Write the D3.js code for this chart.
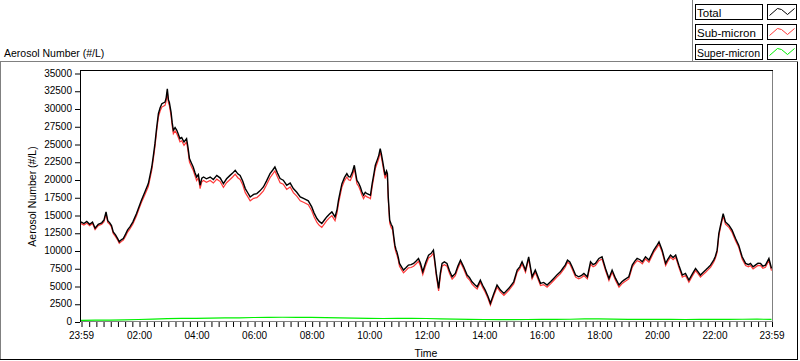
<!DOCTYPE html>
<html><head><meta charset="utf-8">
<script src="https://cdn.jsdelivr.net/npm/d3@7"></script>
<style>
body{margin:0;background:#fff}
svg{display:block}
text{font-family:"Liberation Sans",Arial,sans-serif;fill:#000}
</style>
</head><body>
<svg id="chart" width="800" height="361"></svg>
<script>
// ---------------- DATA ----------------
// sample times, hours after the 23:59 start
const timeH = [
0.00,0.10,0.20,0.30,0.40,0.49,0.60,0.72,0.80,0.87,
0.93,1.00,1.06,1.12,1.20,1.27,1.33,1.40,1.47,1.55,
1.62,1.70,1.80,1.93,2.02,2.10,2.22,2.34,2.46,2.52,
2.57,2.63,2.69,2.75,2.81,2.92,2.96,3.00,3.04,3.07,
3.13,3.17,3.21,3.27,3.33,3.38,3.44,3.50,3.58,3.67,
3.72,3.77,3.84,3.90,3.96,4.02,4.08,4.14,4.20,4.26,
4.36,4.49,4.60,4.72,4.84,4.95,5.06,5.18,5.27,5.36,
5.45,5.53,5.62,5.71,5.80,5.88,6.00,6.11,6.22,6.34,
6.45,6.57,6.66,6.74,6.83,6.92,7.03,7.15,7.27,7.38,
7.50,7.62,7.75,7.90,8.02,8.10,8.20,8.28,8.37,8.46,
8.54,8.63,8.72,8.83,8.90,8.95,9.01,9.07,9.16,9.24,
9.30,9.36,9.43,9.50,9.55,9.59,9.65,9.71,9.76,9.82,
9.88,9.94,10.00,10.06,10.12,10.18,10.23,10.30,10.35,10.40,
10.44,10.48,10.53,10.57,10.62,10.65,10.68,10.73,10.78,10.83,
10.87,10.91,10.95,10.98,11.03,11.07,11.14,11.21,11.30,11.38,
11.47,11.56,11.64,11.73,11.80,11.88,11.98,12.08,12.17,12.25,
12.30,12.35,12.40,12.43,12.49,12.55,12.63,12.72,12.81,12.90,
13.01,13.10,13.19,13.30,13.42,13.50,13.59,13.68,13.77,13.88,
13.96,14.05,14.15,14.23,14.35,14.46,14.58,14.70,14.87,15.04,
15.16,15.25,15.33,15.45,15.56,15.68,15.79,15.97,16.08,16.20,
16.32,16.43,16.55,16.66,16.75,16.83,16.91,16.99,17.07,17.19,
17.30,17.40,17.48,17.60,17.71,17.80,17.88,18.00,18.11,18.23,
18.35,18.46,18.58,18.70,18.80,18.87,19.04,19.16,19.25,19.33,
19.43,19.51,19.62,19.74,19.83,19.91,20.00,20.09,20.20,20.32,
20.40,20.49,20.58,20.67,20.78,20.90,21.01,21.13,21.25,21.36,
21.45,21.53,21.62,21.71,21.80,21.88,21.99,22.05,22.11,22.17,
22.23,22.32,22.40,22.52,22.63,22.75,22.86,22.98,23.10,23.20,
23.27,23.36,23.44,23.53,23.62,23.70,23.79,23.91,24.00
];
const total = [
14030,13800,14100,13700,14000,13140,13700,13900,14300,15430,
14200,13900,13500,12620,12200,11700,11220,11500,11690,12300,
12900,13330,14000,15200,16200,17080,18250,19420,21760,23500,
25050,27300,29260,30100,30670,30900,31500,32780,31200,30900,
29490,28000,26920,27300,26920,26400,25750,25900,25280,25750,
24500,22940,22300,21760,21000,20350,20700,19190,20200,20350,
20100,20350,20000,20580,20200,19420,20100,20580,20900,21300,
20800,20580,19800,18720,18100,17540,17900,18020,18400,18950,
19800,20830,21300,21760,20900,20130,19900,19190,19500,18720,
18200,17540,17300,17000,16140,15300,14500,14100,13800,14300,
14730,15100,15430,14730,15800,17080,18300,19420,20300,20830,
20400,20350,21000,22000,20800,19890,19500,18950,18300,17780,
18200,18000,17900,17780,19420,20800,22000,22800,23400,24350,
23600,22700,21500,20600,21200,20830,17540,14270,13700,13330,
12000,10750,10100,9810,9000,8180,7700,7240,7600,7940,
8000,8180,8500,8880,8200,7000,8300,9350,9600,10050,
8500,6770,5500,4670,6800,8180,8400,8180,7100,6300,
6770,7800,8650,7700,6540,6200,5590,5200,4890,5830,
5100,4430,3500,2560,3960,5130,4430,3960,4670,5590,
7240,7700,8410,7240,9110,6300,7240,5370,5500,5130,
5600,6070,6600,7000,7500,7940,8650,8400,7700,6540,
6300,6500,6770,6300,8410,8000,8180,8880,9110,7470,
6070,7240,6070,5130,5600,5830,6300,7940,8500,8880,
8700,8410,9110,8650,9400,10050,10600,11220,10050,8180,
8800,9350,9000,9350,7940,6540,6770,5830,6700,7470,
7000,6540,6900,7240,7600,7940,8650,9200,10050,12400,
13560,15200,14030,13560,12860,11690,10750,9110,8180,8000,
8180,7700,7940,8200,8180,7800,7940,8880,7470
];
const subMicron = [
13800,13600,13850,13500,13800,12950,13500,13700,14050,15150,
13950,13700,13300,12400,11950,11500,11000,11250,11450,12000,
12600,13050,13700,14900,15900,16750,17850,19000,21300,23050,
24600,26850,28800,29650,30200,30450,31050,32300,30750,30450,
29000,27550,26450,26850,26450,25950,25300,25450,24800,25300,
24000,22450,21800,21300,20550,19850,20250,18700,19700,19850,
19600,19850,19500,20050,19700,18900,19550,20000,20350,20750,
20250,20000,19250,18150,17550,17000,17350,17450,17850,18400,
19250,20250,20750,21200,20350,19550,19350,18600,18950,18150,
17650,17000,16750,16450,15600,14750,13950,13550,13250,13750,
14200,14600,14900,14200,15300,16600,17800,18950,19850,20350,
19950,19850,20500,21550,20350,19400,19050,18450,17850,17300,
17750,17550,17450,17300,18950,20350,21550,22350,22950,23900,
23150,22250,21050,20150,20750,20350,17100,13850,13250,12900,
11600,10350,9700,9400,8600,7780,7300,6850,7200,7550,
7600,7780,8100,8480,7800,6600,7900,8950,9200,9650,
8100,6380,5100,4300,6400,7800,8000,7800,6750,5950,
6450,7480,8330,7380,6220,5880,5270,4880,4580,5520,
4800,4130,3200,2280,3660,4830,4130,3660,4370,5290,
6940,7400,8100,6940,8800,6000,6940,5070,5200,4830,
5300,5770,6300,6700,7200,7640,8340,8100,7400,6240,
6000,6200,6460,6000,8100,7700,7880,8570,8800,7170,
5770,6940,5770,4830,5300,5530,6000,7640,8200,8570,
8400,8110,8800,8350,9100,9750,10300,10900,9750,7880,
8500,9050,8700,9050,7640,6240,6470,5530,6400,7170,
6700,6240,6600,6940,7300,7640,8350,8900,9750,12100,
13250,14880,13720,13250,12550,11390,10450,8810,7880,7700,
7880,7400,7640,7900,7880,7500,7640,8580,7170
];
const superTimeH = [
0,0.5,1,1.5,2,2.5,3,3.5,4,4.5,5,5.5,6,6.5,7,7.5,8,8.5,9,9.5,10,10.5,11,11.5,12,
12.5,13,13.5,14,14.5,15,15.5,16,16.5,17,17.5,18,18.5,19,19.5,20,20.5,21,21.5,22,22.5,23,23.5,24
];
const superMicron = [
150,180,200,230,280,330,400,430,450,470,500,520,560,580,600,590,570,540,500,470,430,420,440,450,420,
380,340,300,280,270,260,280,290,300,320,360,380,330,300,290,300,290,280,290,300,310,320,330,300
];
const yTickValues = [0,2500,5000,7500,10000,12500,15000,17500,20000,22500,25000,27500,30000,32500,35000];
const xTickLabels = ["23:59","02:00","04:00","06:00","08:00","10:00","12:00","14:00","16:00","18:00","20:00","22:00","23:59"];
const seriesNames = ["Total","Sub-micron","Super-micron"];
const seriesColors = ["#000000","#ff3838","#00f000"];
const yTitle = "Aerosol Number (#/L)";
const xTitle = "Time";

// ---------------- DRAW ----------------
const svg = d3.select("#chart");
const x = d3.scaleLinear().domain([0, 1440]).range([81, 771.5]);
const y = d3.scaleLinear().domain([0, 35000]).range([321.5, 73]);

// outer frame
svg.append("line").attr("x1",0).attr("x2",798).attr("y1",61.5).attr("y2",61.5).attr("stroke","#808080");
svg.append("line").attr("x1",0.5).attr("x2",0.5).attr("y1",61).attr("y2",360).attr("stroke","#808080");
svg.append("line").attr("x1",0).attr("x2",798).attr("y1",359.5).attr("y2",359.5).attr("stroke","#000");
svg.append("line").attr("x1",797.5).attr("x2",797.5).attr("y1",62).attr("y2",360).attr("stroke","#000");
svg.append("line").attr("x1",692.5).attr("x2",692.5).attr("y1",0).attr("y2",62).attr("stroke","#808080");

// titles
svg.append("text").attr("x",4).attr("y",57).style("font-size","10.5px").text(yTitle);
svg.append("text").attr("transform","translate(35.5,196.5) rotate(-90)").attr("text-anchor","middle")
  .style("font-size","10.5px").text(yTitle);
svg.append("text").attr("x",426).attr("y",357).attr("text-anchor","middle").style("font-size","10.5px").text(xTitle);

// y axis
const yAxis = d3.axisLeft(y).tickValues(yTickValues).tickSize(5).tickPadding(3).tickFormat(d3.format("d"));
const gy = svg.append("g").attr("transform","translate(80,0)").call(yAxis);
gy.select(".domain").remove();
gy.selectAll("text").style("font-size","10px").style("font-family","'Liberation Sans',Arial,sans-serif");
gy.selectAll("line").attr("stroke","#000").attr("transform","translate(0,0.5)");

// x axis
function labelToMin(s, i){
  const [h,m] = s.split(":").map(Number);
  let v = ((h*60+m) - (23*60+59) + 1440) % 1440;
  if (i > 0 && v === 0) v = 1440;
  return v;
}
const majorPos = xTickLabels.map(labelToMin);
const minorPos = d3.range(16, 1440, 15).filter(v => !majorPos.includes(v));
const gxm = svg.append("g").attr("transform","translate(0.5,322)")
  .call(d3.axisBottom(x).tickValues(minorPos).tickSize(5).tickFormat(""));
gxm.select(".domain").remove();
const gx = svg.append("g").attr("transform","translate(0.5,322)")
  .call(d3.axisBottom(x).tickValues(majorPos).tickSize(5).tickPadding(5)
        .tickFormat((d,i) => xTickLabels[i]));
gx.select(".domain").remove();
gx.selectAll("text").style("font-size","10px").style("font-family","'Liberation Sans',Arial,sans-serif")
  .attr("transform","translate(-0.5,0)");

// plot frame
svg.append("line").attr("x1",80).attr("x2",773).attr("y1",70.5).attr("y2",70.5).attr("stroke","#000");
svg.append("line").attr("x1",80.5).attr("x2",80.5).attr("y1",70).attr("y2",322).attr("stroke","#000");
svg.append("line").attr("x1",772.5).attr("x2",772.5).attr("y1",71).attr("y2",322).attr("stroke","#808080");
svg.append("line").attr("x1",81).attr("x2",773).attr("y1",321.5).attr("y2",321.5).attr("stroke","#808080");

// clip
svg.append("clipPath").attr("id","clip").append("rect").attr("x",81).attr("y",71).attr("width",691).attr("height",250);
const plot = svg.append("g").attr("clip-path","url(#clip)");

const line = d3.line().x(d => x(d[0]*60)).y(d => y(d[1]));
const n = Math.min(timeH.length, total.length, subMicron.length);
const totalPts = d3.range(n).map(i => [timeH[i], total[i]]);
const subPts = d3.range(n).map(i => [timeH[i], subMicron[i]]);
const superPts = superTimeH.map((t,i) => [t, superMicron[i]]);

plot.append("path").attr("d", line(superPts)).attr("fill","none").attr("stroke",seriesColors[2]).attr("stroke-width",1.2);
plot.append("path").attr("d", line(subPts)).attr("fill","none").attr("stroke",seriesColors[1]).attr("stroke-width",1.2);
plot.append("path").attr("d", line(totalPts)).attr("fill","none").attr("stroke",seriesColors[0]).attr("stroke-width",1.4);

// legend
const lg = svg.append("g");
seriesNames.forEach((name, i) => {
  const top = 4.5 + i*20;
  lg.append("rect").attr("x",695.5).attr("y",top).attr("width",67).attr("height",15)
    .attr("fill","#fff").attr("stroke","#000");
  const t = lg.append("text").attr("x",697).attr("y",top+12).style("font-size","11.5px").text(name);
  if (t.node().getComputedTextLength() > 63) t.attr("textLength",63).attr("lengthAdjust","spacingAndGlyphs");
  lg.append("rect").attr("x",767.5).attr("y",top).attr("width",29).attr("height",15)
    .attr("fill","#fff").attr("stroke","#000");
  const zig = [[2,11],[10,4],[14,5],[20,10],[27,4]].map(p => [767.5+p[0], top+p[1]]);
  lg.append("path").attr("d", d3.line()(zig)).attr("fill","none").attr("stroke",seriesColors[i]).attr("stroke-width",1);
});
</script>
</body></html>
